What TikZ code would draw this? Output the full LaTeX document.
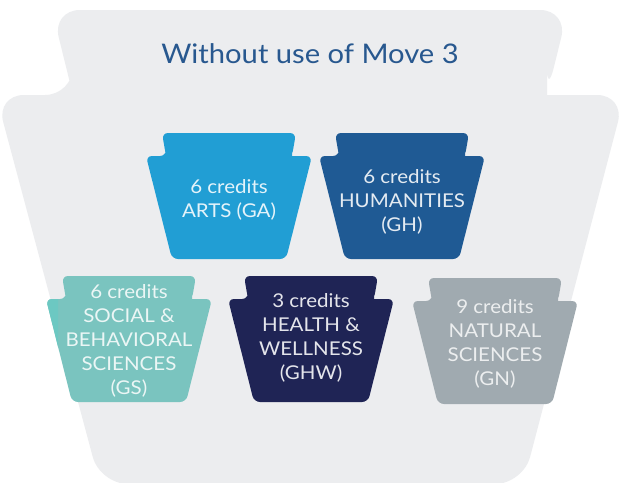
\documentclass[tikz,border=0pt]{standalone}
\usepackage{fontspec}
\setmainfont[FakeStretch=1.08]{Lato}
\definecolor{bgkey}{HTML}{ECEDEF}
\definecolor{titleblue}{HTML}{28588F}
\definecolor{arts}{HTML}{219ED4}
\definecolor{hum}{HTML}{1F5A94}
\definecolor{soc}{HTML}{7AC4BF}
\definecolor{socedge}{HTML}{6CC8C2}
\definecolor{hw}{HTML}{1F2455}
\definecolor{nat}{HTML}{A0AAB0}
\newcommand\keyshape[3]{%
  \fill[#3, rounded corners=6pt]
    (#1-67,#2) -- (#1+67,#2) -- (#1+63,#2+23) [sharp corners] -- (#1+63,#2+23)
    [rounded corners=6pt] -- (#1+83,#2+23) -- (#1+57,#2+126) -- (#1-57,#2+126)
    -- (#1-83,#2+23) -- (#1-63,#2+23) [sharp corners] -- (#1-63,#2+23)
    [rounded corners=6pt] -- cycle;}
\begin{document}
\begin{tikzpicture}[x=1pt,y=-1pt,
  keytext/.style={align=center, inner sep=0pt, font=\fontsize{19}{24}\selectfont},
  titletext/.style={font=\fontsize{27}{32}\selectfont, text=titleblue, anchor=base}]
\clip (0,0) rectangle (621,482);
\fill[white] (0,0) rectangle (621,482);
% big keystone
\fill[bgkey, rounded corners=28pt]
  (52,10) -- (568,10) -- (547,95) [sharp corners] -- (547,95)
  [rounded corners=28pt] -- (625,95) -- (523,484) -- (100,484) -- (-4,95)
  -- (73,95) [sharp corners] -- (73,95) [rounded corners=28pt] -- cycle;
\node[titletext] (title) at (310,63) {Without use of Move 3};
% top row
\keyshape{229}{133}{arts}
\node[keytext, text=white!88!arts] (ga) at (229,200) {6 credits\\ARTS (GA)};
\keyshape{402}{133}{hum}
\node[keytext, text=white!88!hum] (gh) at (402,202) {6 credits\\HUMANITIES\\(GH)};
% bottom row
\keyshape{129}{276}{soc}
\begin{scope}
  \clip (46,290) rectangle (58,420);
  \keyshape{129}{276}{socedge}
\end{scope}
\node[keytext, text=white!85!soc] (gs) at (129,341) {6 credits\\SOCIAL \&\\BEHAVIORAL\\SCIENCES\\(GS)};
\keyshape{311}{276}{hw}
\node[keytext, text=white!88!hw] (ghw) at (311,338) {3 credits\\HEALTH \&\\WELLNESS\\(GHW)};
\keyshape{495}{278}{nat}
\node[keytext, text=white!80!nat] (gn) at (495,344) {9 credits\\NATURAL\\SCIENCES\\(GN)};
\end{tikzpicture}
\end{document}
